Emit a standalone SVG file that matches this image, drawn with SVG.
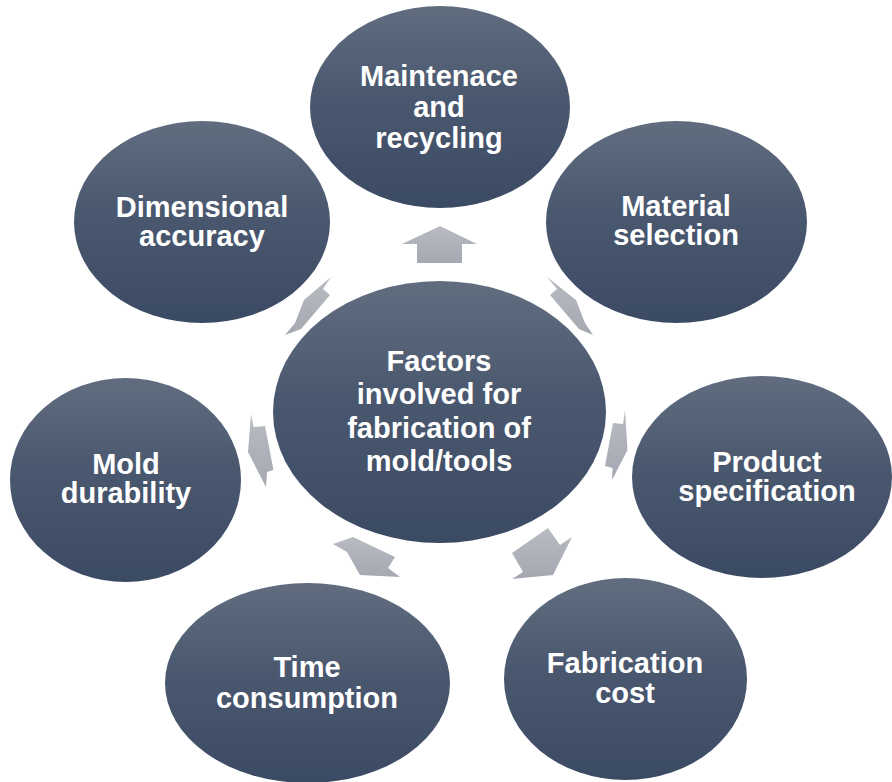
<svg xmlns="http://www.w3.org/2000/svg" width="892" height="782" viewBox="0 0 892 782">
  <defs>
    <linearGradient id="ellGrad" x1="0" y1="0" x2="0" y2="1">
      <stop offset="0" stop-color="#616d7f"/>
      <stop offset="0.45" stop-color="#4a586f"/>
      <stop offset="1" stop-color="#3b4a63"/>
    </linearGradient>
    <linearGradient id="arrGrad" x1="0" y1="0" x2="0" y2="1">
      <stop offset="0" stop-color="#b8bbc2"/>
      <stop offset="1" stop-color="#a4a8b0"/>
    </linearGradient>
    <style>
      .node ellipse { fill: url(#ellGrad); }
      .node text { font-family: "Liberation Sans", Arial, sans-serif; font-weight: bold; font-size: 29px; fill: #ffffff; text-anchor: middle; }
      .arrows polygon { fill: url(#arrGrad); stroke: none; }
    </style>
  </defs>
  <rect width="892" height="782" fill="#ffffff"/>

  <g id="connectors" class="arrows">
    <polygon points="440,226 477,244 462,244 462,263 417,263 417,244 402,244"/>
    <polygon points="547,277 576,300 585,323 593,335 579,329 550,295 557,289"/>
    <polygon points="625,410 627.5,450 612,480 612.5,468 605,466 613,423 623,424"/>
    <polygon points="548,528 560,545 572,537 553,575 512,579 523,572 512,553"/>
    <polygon points="333,544 353,537 395,557 388,568 400,577 360,575 347,552"/>
    <polygon points="251,414 253.5,427 265,426 273.5,470 267,472 266,487 248,452"/>
    <polygon points="331,277 304,300 295,323 285,335 301,329 330,295 323,289"/>
  </g>

  <g id="center" class="node">
    <ellipse cx="439.5" cy="412" rx="166.5" ry="131"/>
    <text x="439" y="371">Factors</text>
    <text x="439" y="404">involved for</text>
    <text x="439" y="438">fabrication of</text>
    <text x="439" y="471">mold/tools</text>
  </g>

  <g id="maintenance" class="node">
    <ellipse cx="440" cy="107" rx="130" ry="101"/>
    <text x="439" y="86">Maintenace</text>
    <text x="439" y="117">and</text>
    <text x="439" y="148">recycling</text>
  </g>

  <g id="material" class="node">
    <ellipse cx="676.5" cy="222" rx="130.5" ry="101"/>
    <text x="676" y="216">Material</text>
    <text x="676" y="245">selection</text>
  </g>

  <g id="product" class="node">
    <ellipse cx="762" cy="477" rx="130" ry="101"/>
    <text x="767" y="472">Product</text>
    <text x="767" y="501">specification</text>
  </g>

  <g id="fabrication" class="node">
    <ellipse cx="625.5" cy="679" rx="121.5" ry="101"/>
    <text x="625" y="673">Fabrication</text>
    <text x="625" y="703">cost</text>
  </g>

  <g id="time" class="node">
    <ellipse cx="307.5" cy="683" rx="142.5" ry="100"/>
    <text x="307" y="677">Time</text>
    <text x="307" y="708">consumption</text>
  </g>

  <g id="mold" class="node">
    <ellipse cx="125.5" cy="480" rx="115.5" ry="102"/>
    <text x="126" y="474">Mold</text>
    <text x="126" y="503">durability</text>
  </g>

  <g id="dimensional" class="node">
    <ellipse cx="202" cy="222" rx="128" ry="101"/>
    <text x="202" y="217">Dimensional</text>
    <text x="202" y="246">accuracy</text>
  </g>
</svg>
